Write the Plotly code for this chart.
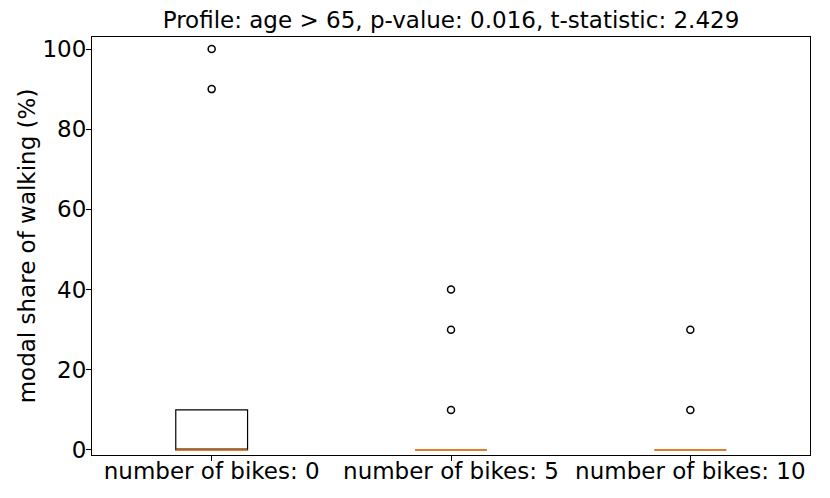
import plotly.graph_objects as go

categories = ["number of bikes: 0", "number of bikes: 5", "number of bikes: 10"]
positions = [1, 2, 3]
q1 = [0, 0, 0]
median = [0, 0, 0]
q3 = [10, 0, 0]
lower_whisker = [0, 0, 0]
upper_whisker = [10, 0, 0]
outliers = [[90, 100], [10, 30, 40], [10, 30]]

title = "Profile: age > 65, p-value: 0.016, t-statistic: 2.429"
ylabel = "modal share of walking (%)"
box_width = 0.3
FONT = "DejaVu Sans"
FS = 23
W, H = 822, 490  # page body adds 8px margin

fig = go.Figure()
fig.add_trace(go.Box(
    x=positions, q1=q1, median=median, q3=q3,
    lowerfence=lower_whisker, upperfence=upper_whisker,
    width=box_width, fillcolor="rgba(0,0,0,0)",
    line=dict(color="black", width=1.2), whiskerwidth=0.5,
    boxpoints=False, showlegend=False, hoverinfo="skip",
))

# medians in orange
mx, my = [], []
for p, m in zip(positions, median):
    mx += [p - box_width / 2, p + box_width / 2, None]
    my += [m, m, None]
fig.add_trace(go.Scatter(x=mx, y=my, mode="lines",
                         line=dict(color="#ff7f0e", width=1.5),
                         showlegend=False, hoverinfo="skip"))

# outliers
ox, oy = [], []
for p, vals in zip(positions, outliers):
    for v in vals:
        ox.append(p)
        oy.append(v)
fig.add_trace(go.Scatter(x=ox, y=oy, mode="markers",
                         marker=dict(symbol="circle-open", size=7, color="black",
                                     line=dict(width=1.5, color="black")),
                         showlegend=False, hoverinfo="skip"))

fig.update_layout(
    width=W, height=H,
    margin=dict(l=84, r=20, t=29, b=43, autoexpand=False),
    paper_bgcolor="white", plot_bgcolor="white",
    font=dict(family=FONT, size=FS, color="black"),
    title=dict(text=title, x=0.5, xref="paper", y=1 - 12 / H, yref="container",
               yanchor="middle", xanchor="center",
               font=dict(family=FONT, size=FS, color="black")),
    xaxis=dict(range=[0.5, 3.5], tickmode="array", tickvals=positions,
               ticktext=categories, showgrid=False, zeroline=False,
               showline=True, linecolor="black", linewidth=1, mirror=True,
               ticks="outside", ticklen=5, tickcolor="black",
               tickfont=dict(size=FS), automargin=False,
               ticklabelstandoff=-10),
    yaxis=dict(range=[-1.25, 103], tickvals=[0, 20, 40, 60, 80, 100],
               showgrid=False, zeroline=False,
               showline=True, linecolor="black", linewidth=1, mirror=True,
               ticks="outside", ticklen=5, tickcolor="black",
               tickfont=dict(size=FS), automargin=False,
               ticklabelstandoff=-5,
               title=dict(text=ylabel, font=dict(size=FS), standoff=0)),
)

fig.write_html("out.html")
